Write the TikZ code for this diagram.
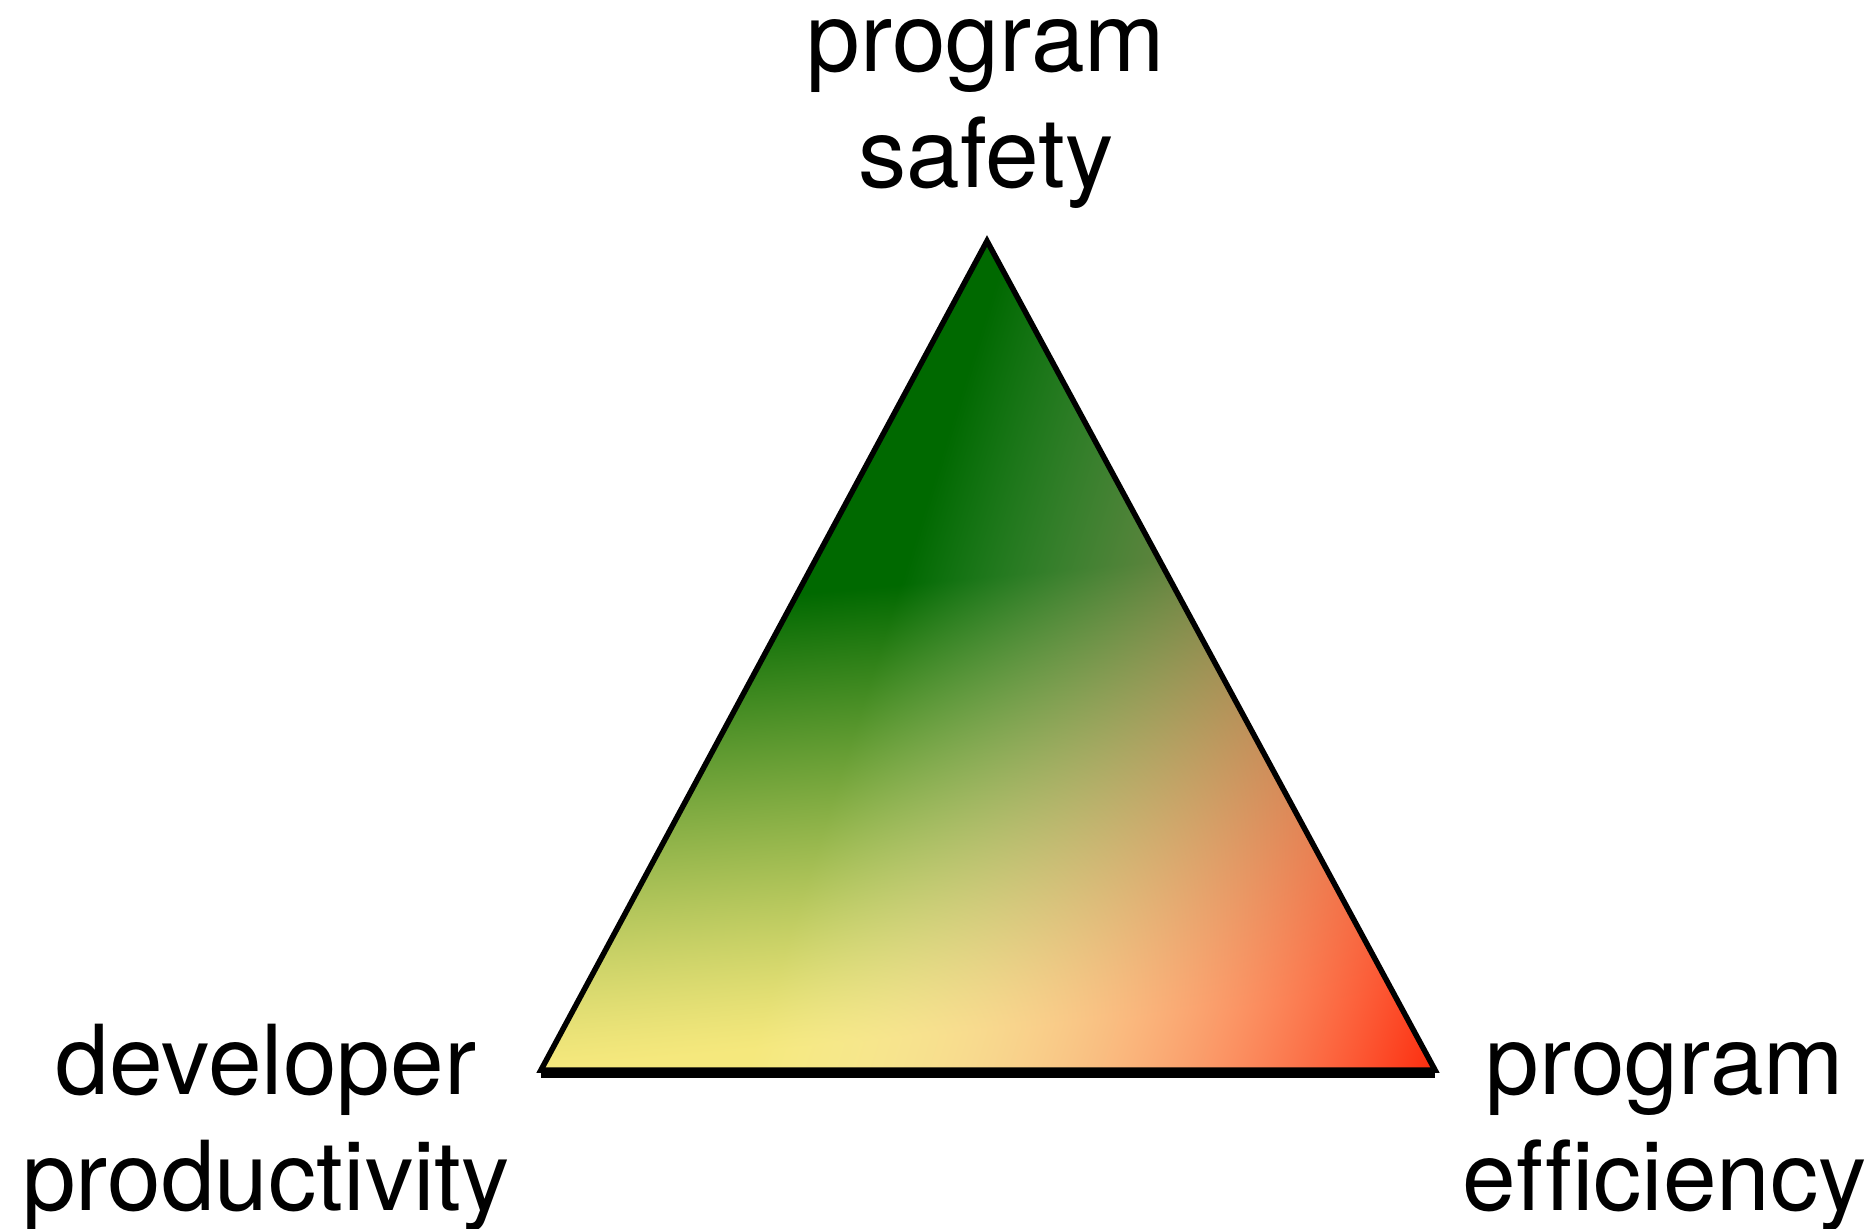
\documentclass[tikz,border=0pt]{standalone}
\usepackage{fontspec}
\setmainfont{TeX Gyre Heros}[Ligatures=NoCommon]

% Colour field of the triangle: a vertical green-to-yellow blend,
% overlaid by a red-to-clear wash that rises from the lower right corner.
% Input: x y in bp inside the 894bp x 829bp box; output: r g b.
\pgfdeclarefunctionalshading{tradeoff}{\pgfpointorigin}{\pgfpoint{894bp}{829bp}}{}{
  829 div exch 894 div
  1 index 1.05 mul 1 index 0.1 mul sub
  0.575 div dup 0 lt {pop 0} if dup 1 gt {pop 1} if 1.2 exp
  1 index 1.3 mul 1.3 exch sub 3 index 0.38 mul add
  dup 0 lt {pop 0} if dup 1 gt {pop 1} if
  4 2 roll pop pop
  1 index -0.961 mul 0.961 add 1 index mul 1 index 1 exch sub dup dup mul 0.99 mul exch 3 index mul add add 3 1 roll
  1 index -0.50 mul 0.91 add 1 index mul 1 index 1 exch sub dup dup mul 0.17 mul exch 3 index mul add add 3 1 roll
  1 index -0.49 mul 0.49 add 1 index mul 1 index 1 exch sub dup dup mul 0.05 mul exch 3 index mul add add 3 1 roll
  pop pop
}

\begin{document}
\begin{tikzpicture}[x=1bp,y=1bp,
  tag/.style={font=\fontsize{96.5bp}{116bp}\selectfont, align=center, anchor=base, inner sep=0pt},
  rim/.style={draw=black, line width=5.5bp, line join=miter}]
  \fill[white] (0,0) rectangle (1875,1228);
  \useasboundingbox (0,0) rectangle (1875,1228);

  \coordinate (bl) at (541,158);
  \coordinate (br) at (1435,158);
  \coordinate (apex) at (987,987);
  \coordinate (bl base) at (541,154);
  \coordinate (br base) at (1435,154);

  % shaded interior
  \begin{scope}
    \clip (bl) -- (br) -- (apex) -- cycle;
    \node[inner sep=0pt, outer sep=0pt, anchor=south west] (field) at (bl) {\pgfuseshading{tradeoff}};
  \end{scope}
  \draw[rim] (bl) -- (br) -- (apex) -- cycle;
  % the base line is drawn a little heavier
  \draw[line width=8bp] (bl base) -- (br base);

  % corner captions (anchored on the baseline of their last line)
  \node[tag] (safety) at (986,1040) {program\\safety};
  \node[tag] (productivity) at (266,18) {developer\\productivity};
  \node[tag] (efficiency) at (1665,18) {program\\efficiency};
\end{tikzpicture}
\end{document}
